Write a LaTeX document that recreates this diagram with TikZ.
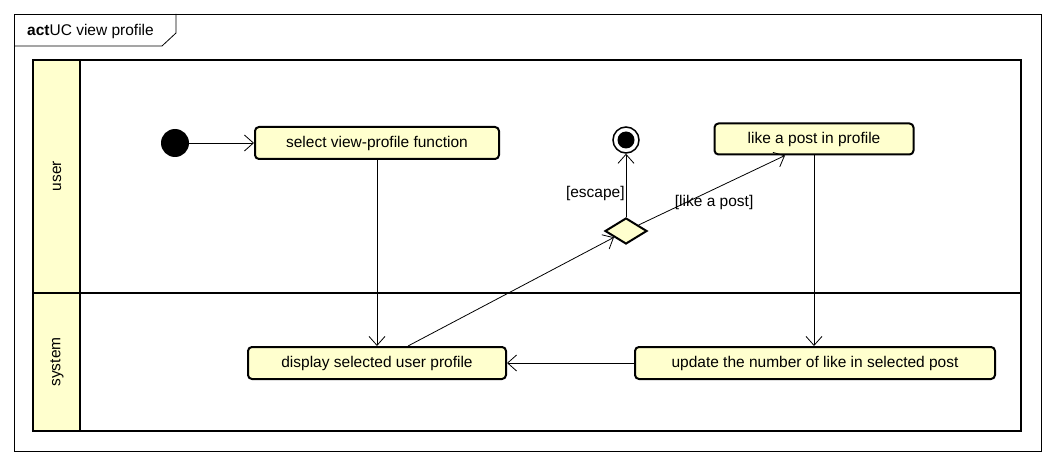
\documentclass[tikz,border=0pt]{standalone}
\usepackage{fontspec}
\setmainfont{Liberation Sans}
\usetikzlibrary{shapes.geometric, arrows.meta, positioning}
\definecolor{notefill}{RGB}{255,255,206}

\begin{document}
\begin{tikzpicture}[
        x=1pt, y=-1pt,
        font=\fontsize{15.5}{18}\selectfont,
        action/.style={rectangle, draw, line width=2pt, rounded corners=4pt, fill=notefill, minimum height=32pt, inner sep=0pt, align=center},
        decision/.style={diamond, draw, line width=2pt, fill=notefill, minimum width=42pt, minimum height=26pt, inner sep=0pt},
        start/.style={circle, fill=black, minimum size=28pt, inner sep=0pt},
        finish/.style={circle, draw, line width=1.5pt, fill=white, minimum size=26pt, inner sep=0pt, path picture={\fill[black] (path picture bounding box.center) circle (8.5pt);}},
        arrow/.style={-{Straight Barb[length=9pt, width=16pt]}, line width=0.8pt},
        guard/.style={inner sep=1pt}
    ]
        \useasboundingbox (0,0) rectangle (1053,465);

        % Frame
        \draw[line width=0.8pt] (14,14) rectangle (1041,451);
        \draw[line width=0.8pt] (14,46) -- (162,46) -- (176,33) -- (176,14);
        \node[anchor=west, inner sep=0pt] (title) at (27,31) {\textbf{act}UC view profile};

        % Lanes
        \fill[notefill] (33,60) rectangle (80,431);
        \draw[line width=2.5pt] (33,60) rectangle (1021,431);
        \draw[line width=2.5pt] (80,60) -- (80,431);
        \draw[line width=2.5pt] (33,293) -- (1021,293);
        \node[rotate=90] (user) at (57,176) {user};
        \node[rotate=90] (system) at (57,362) {system};

        % Nodes
        \node[start] (init) at (175,143) {};
        \node[action, minimum width=244pt] (select) at (377,143) {select view-profile function};
        \node[finish] (final) at (626,140) {};
        \node[decision] (dec) at (626,231) {};
        \node[action, minimum width=199pt, minimum height=31pt] (like) at (814,139) {like a post in profile};
        \node[action, minimum width=258pt] (display) at (377,363) {display selected user profile};
        \node[action, minimum width=360pt] (update) at (815,363) {update the number of like in selected post};

        % Arrows
        \draw[arrow] (init) -- (select);
        \draw[arrow] (select) -- (display);
        \draw[arrow] ([xshift=31pt]display.north) -- (dec);
        \draw[arrow] (dec) -- (final) node[guard, pos=0.37, left] {[escape]};
        \draw[arrow] (dec) -- ([xshift=-29pt]like.south) node[guard, pos=0.3, above right=-7pt and -9pt] {[like a post]};
        \draw[arrow] (like.south) -- (like.south |- update.north);
        \draw[arrow] (update) -- (display);
    \end{tikzpicture}
\end{document}
